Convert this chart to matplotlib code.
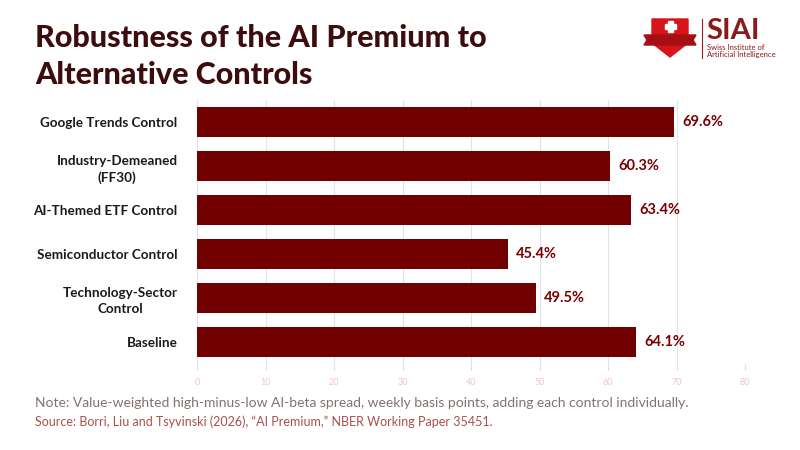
import matplotlib
matplotlib.use("Agg")
import matplotlib.pyplot as plt
from matplotlib.patches import Polygon, Rectangle

plt.rcParams["font.family"] = ["Lato", "DejaVu Sans"]

categories = ["Google Trends Control", "Industry-Demeaned\n(FF30)", "AI-Themed ETF Control",
              "Semiconductor Control", "Technology-Sector\nControl", "Baseline"]
values = [69.6, 60.3, 63.4, 45.4, 49.5, 64.1]
xticks = [0, 10, 20, 30, 40, 50, 60, 70, 80]

BAR = "#730000"
TITLE = "#3d0c0c"

fig = plt.figure(figsize=(8, 4.5), dpi=100)
ax = fig.add_axes([197 / 800, 1 - 364 / 450, 548 / 800, 264 / 450])

ypos = list(range(len(categories)))
ax.barh(ypos, values, height=0.7, color=BAR, zorder=3)
for y, v in zip(ypos, values):
    ax.text(v + 1.2, y, f"{v:.1f}%", va="center", ha="left", fontsize=10.5,
            fontweight="bold", color="#7a0000", zorder=4)

ax.set_ylim(len(categories) - 0.5, -0.5)
ax.set_xlim(0, 80)
ax.set_xticks(xticks)
ax.set_xticklabels([str(t) for t in xticks], fontsize=6.5, color="#f2c4c4")
ax.set_yticks(ypos)
ax.set_yticklabels(categories, fontsize=9.7, fontweight="bold", color="#1a1a1a",
                   multialignment="center", linespacing=1.4)
ax.tick_params(axis="y", length=0, pad=14)
ax.tick_params(axis="x", length=4, color="#dcdce4", pad=6)
ax.grid(axis="x", color="#e2e2ea", linewidth=0.8, zorder=0)
for s in ax.spines.values():
    s.set_visible(False)

fig.text(35 / 800, 1 - 38 / 450, "Robustness of the AI Premium to", fontsize=22,
         fontweight="black", color=TITLE, va="center", ha="left")
fig.text(35 / 800, 1 - 75 / 450, "Alternative Controls", fontsize=22,
         fontweight="black", color=TITLE, va="center", ha="left")

fig.text(35 / 800, 1 - 403 / 450,
         "Note: Value-weighted high-minus-low AI-beta spread, weekly basis points, "
         "adding each control individually.",
         fontsize=10, color="#8a6e6e", va="center", ha="left")
fig.text(35 / 800, 1 - 422 / 450,
         "Source: Borri, Liu and Tsyvinski (2026), \u201cAI Premium,\u201d NBER Working Paper 35451.",
         fontsize=9, color="#a8504a", va="center", ha="left")

# logo
lax = fig.add_axes([640 / 800, 1 - 65 / 450, 130 / 800, 50 / 450])
lax.set_xlim(0, 130)
lax.set_ylim(0, 50)
lax.axis("off")
shield = Polygon([(12, 46), (48, 46), (48, 22), (30, 8), (12, 22)], closed=True,
                 color="#d7141a")
lax.add_patch(shield)
lax.add_patch(Polygon([(4, 30), (56, 30), (53, 25), (56, 20), (4, 20), (7, 25)],
                      closed=True, color="#a50f14"))
lax.add_patch(Rectangle((27.5, 33), 5, 11, color="white"))
lax.add_patch(Rectangle((24.5, 36), 11, 5, color="white"))
lax.plot([62, 62], [7, 46], color="#a02020", linewidth=0.8)
lax.text(66, 34, "SIAI", fontsize=21, fontweight="bold", color="#8b1a1a",
         va="center", ha="left")
lax.text(67, 17, "Swiss Institute of", fontsize=5.5, color="#8b1a1a", va="center")
lax.text(67, 10, "Artificial Intelligence", fontsize=5.5, color="#8b1a1a", va="center")

fig.savefig("out.png", dpi=100)
